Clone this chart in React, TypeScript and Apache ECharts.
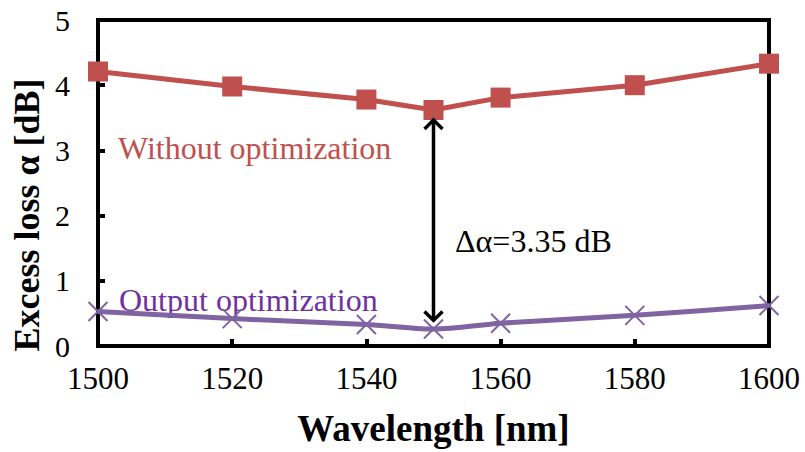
import React, { useEffect, useRef } from "react";
import * as echarts from "echarts";

const wavelengths = [1500, 1520, 1540, 1550, 1560, 1580, 1600];
const withoutOpt = [4.21, 3.98, 3.78, 3.62, 3.81, 4.0, 4.33];
const outputOpt = [0.53, 0.42, 0.33, 0.26, 0.35, 0.47, 0.62];
const arrowAt = [1550, 3.62, 0.27];

const FONT = "'Liberation Serif', 'Times New Roman', serif";

export default function App() {
  const ref = useRef<HTMLDivElement>(null);
  useEffect(() => {
    if (!ref.current) return;
    const chart = echarts.init(ref.current, undefined, { renderer: "svg" });
    chart.setOption({
      animation: false,
      textStyle: { fontFamily: FONT },
      grid: {
        left: 98,
        right: 36,
        top: 20,
        bottom: 102,
        show: true,
        borderColor: "#000",
        borderWidth: 4,
      },
      xAxis: {
        type: "value",
        min: 1500,
        max: 1600,
        interval: 20,
        name: "Wavelength [nm]",
        nameLocation: "middle",
        nameGap: 64,
        nameTextStyle: { fontFamily: FONT, fontSize: 37, fontWeight: "bold", color: "#000" },
        axisLine: { lineStyle: { color: "#000", width: 4 } },
        axisTick: { inside: true, length: 7, lineStyle: { color: "#000", width: 4 } },
        axisLabel: {
          fontFamily: FONT,
          fontSize: 31,
          color: "#000",
          margin: 17,
          formatter: (v: number) => String(v),
        },
        splitLine: { show: false },
      },
      yAxis: {
        type: "value",
        min: 0,
        max: 5,
        interval: 1,
        axisLine: { lineStyle: { color: "#000", width: 4 } },
        axisTick: { inside: true, length: 7, lineStyle: { color: "#000", width: 4 } },
        axisLabel: { fontFamily: FONT, fontSize: 30, color: "#000", margin: 28 },
        splitLine: { show: false },
      },
      series: [
        {
          type: "line",
          data: wavelengths.map((w, i) => [w, withoutOpt[i]]),
          symbol: "rect",
          symbolSize: 20,
          itemStyle: { color: "#c0504d" },
          lineStyle: { color: "#c0504d", width: 5 },
          z: 3,
        },
        {
          type: "line",
          data: wavelengths.map((w, i) => [w, outputOpt[i]]),
          symbol: "path://M0,0 L10,10 M10,0 L0,10",
          symbolSize: 19,
          smooth: 0.3,
          itemStyle: { color: "none", borderColor: "#8064a2", borderWidth: 2 },
          lineStyle: { color: "#8064a2", width: 5 },
          z: 3,
        },
        {
          type: "custom",
          data: [arrowAt],
          z: 5,
          renderItem: (params: any, api: any) => {
            const top = api.coord([api.value(0), api.value(1)]);
            const bot = api.coord([api.value(0), api.value(2)]);
            const x = top[0];
            const y1 = top[1] + 10;
            const y2 = bot[1] - 8;
            const h = 9;
            const style = { stroke: "#000", lineWidth: 3.5, fill: "none" };
            return {
              type: "group",
              children: [
                { type: "line", shape: { x1: x, y1: y1 + 1, x2: x, y2: y2 - 1 }, style },
                { type: "polyline", shape: { points: [[x - h, y1 + h], [x, y1], [x + h, y1 + h]] }, style },
                { type: "polyline", shape: { points: [[x - h, y2 - h], [x, y2], [x + h, y2 - h]] }, style },
              ],
            };
          },
        },
      ],
      graphic: [
        {
          type: "text",
          x: 27,
          y: 215,
          rotation: Math.PI / 2,
          style: {
            text: "Excess loss α [dB]",
            fontFamily: FONT,
            fontSize: 36,
            fontWeight: "bold",
            fill: "#000",
            align: "center",
            verticalAlign: "middle",
          },
        },
        {
          type: "text",
          left: 118,
          top: 132,
          style: { text: "Without optimization", fontFamily: FONT, fontSize: 32, fill: "#c0504d" },
        },
        {
          type: "text",
          left: 119,
          top: 284,
          style: { text: "Output optimization", fontFamily: FONT, fontSize: 32, fill: "#7030a0" },
        },
        {
          type: "text",
          left: 455,
          top: 225,
          style: { text: "Δα=3.35 dB", fontFamily: FONT, fontSize: 32, fill: "#000" },
        },
      ],
    });
    return () => chart.dispose();
  }, []);
  return <div ref={ref} style={{ width: 805, height: 452, position: "absolute", left: 0, top: 0 }} />;
}
